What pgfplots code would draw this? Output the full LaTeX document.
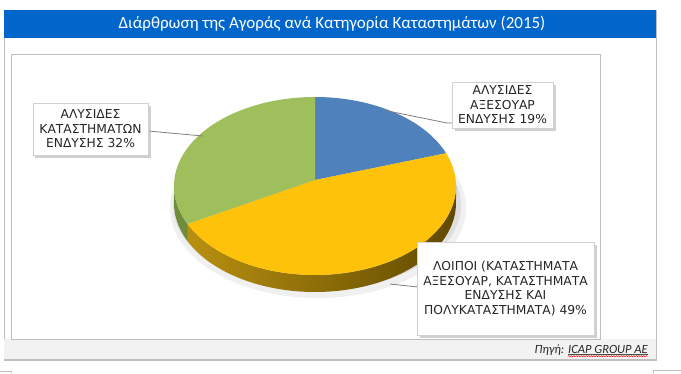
\documentclass[border=0pt]{standalone}
\usepackage{fontspec}
\setmainfont{Carlito}
\newfontfamily\dejavu{DejaVu Sans}
\usepackage{pgfplots}
\usepackage{pgfplotstable}
\pgfplotsset{compat=1.18}
\usetikzlibrary{shadows,decorations.pathmorphing}

\definecolor{titleblue}{HTML}{0066CC}
\definecolor{pieblue}{HTML}{4F81BD}
\definecolor{pieyellow}{HTML}{FFC20A}
\definecolor{piegreen}{HTML}{9FBF5D}
\definecolor{framegray}{HTML}{BFBFBF}
\definecolor{srcbg}{HTML}{F2F2F2}
\definecolor{leadergray}{HTML}{7F7F7F}
\definecolor{sideL}{HTML}{B89010}
\definecolor{sideM}{HTML}{8A6A00}
\definecolor{sideR}{HTML}{604900}
\definecolor{sideG}{HTML}{6E8C3A}

\pgfplotstableread{
idx value
0 19
1 49
2 32
}\piedata

\begin{document}
\begin{tikzpicture}
\pgfplotstablegetelem{0}{value}\of\piedata \edef\vA{\pgfplotsretval}
\pgfplotstablegetelem{1}{value}\of\piedata \edef\vB{\pgfplotsretval}
\pgfplotstablegetelem{2}{value}\of\piedata \edef\vC{\pgfplotsretval}
\pgfmathsetmacro\aO{90}
\pgfmathsetmacro\aA{90-3.6*\vA}
\pgfmathsetmacro\aB{\aA-3.6*\vB}
\pgfmathsetmacro\aC{\aB-3.6*\vC}
\def\cx{315}\def\cy{186}\def\rx{141}\def\ry{89}
\def\px{315}\def\py{180}\def\dep{17}
\begin{axis}[
  scale only axis, width=681pt, height=373pt,
  xmin=0, xmax=681, ymin=0, ymax=373, y dir=reverse,
  hide axis, clip=false,
]
% outer frame
\draw[framegray, line width=0.8pt, fill=white] (axis cs:4,10) rectangle (axis cs:656,360);
\fill[titleblue] (axis cs:4,10) rectangle (axis cs:656,38);
\node[text=white, font=\fontsize{17}{20}\selectfont] at (axis cs:332,24) {Διάρθρωση της Αγοράς ανά Κατηγορία Καταστημάτων (2015)};
% source bar
\fill[srcbg] (axis cs:4,339) rectangle (axis cs:656,359);
\draw[framegray, line width=1.2pt] (axis cs:4,359.5) -- (axis cs:656,359.5);
% inner chart box
\draw[framegray, line width=0.8pt] (axis cs:11,54) rectangle (axis cs:600,339);
% bits at the bottom
\draw[framegray, line width=0.8pt] (axis cs:0,371) -- (axis cs:11,371) -- (axis cs:11,373);
\draw[framegray, line width=0.8pt] (axis cs:653,373) -- (axis cs:653,370) -- (axis cs:681,370);

% pie shadow
\addplot[fill=black!6, draw=none, domain=0:360, samples=120] ({318+148*cos(x)},{208+90*sin(x)});
\addplot[fill=black!13, draw=none, domain=0:360, samples=120] ({317+144*cos(x)},{205+86*sin(x)});

% side of yellow slice
\addplot[draw=none, left color=sideL, middle color=sideM, right color=sideR,
  variable=\t, domain=0:2, samples=201]
 ({\cx+\rx*cos(ifthenelse(\t<1.005, \aB+(0-\aB)*\t, 0-(0-\aB)*(\t-1.01)/0.99))},
  {\cy-\ry*sin(ifthenelse(\t<1.005, \aB+(0-\aB)*\t, 0-(0-\aB)*(\t-1.01)/0.99)) + ifthenelse(\t<1.005,0,\dep)});
% side of green slice
\addplot[draw=none, fill=sideG,
  variable=\t, domain=0:2, samples=101]
 ({\cx+\rx*cos(ifthenelse(\t<1.005, -180+(\aB+180)*\t, \aB-(\aB+180)*(\t-1.02)/0.98))},
  {\cy-\ry*sin(ifthenelse(\t<1.005, -180+(\aB+180)*\t, \aB-(\aB+180)*(\t-1.02)/0.98)) + ifthenelse(\t<1.005,0,\dep)});

% top wedges
\addplot[fill=pieblue, draw=none, variable=\t, domain=0:1.01, samples=102]
 ({ifthenelse(\t>1.005, \px, \cx+\rx*cos(\aO+(\aA-\aO)*\t))},
  {ifthenelse(\t>1.005, \py, \cy-\ry*sin(\aO+(\aA-\aO)*\t))});
\addplot[fill=pieyellow, draw=none, variable=\t, domain=0:1.01, samples=102]
 ({ifthenelse(\t>1.005, \px, \cx+\rx*cos(\aA+(\aB-\aA)*\t))},
  {ifthenelse(\t>1.005, \py, \cy-\ry*sin(\aA+(\aB-\aA)*\t))});
\addplot[fill=piegreen, draw=none, variable=\t, domain=0:1.01, samples=102]
 ({ifthenelse(\t>1.005, \px, \cx+\rx*cos(\aB+(\aC-\aB)*\t))},
  {ifthenelse(\t>1.005, \py, \cy-\ry*sin(\aB+(\aC-\aB)*\t))});

% leader lines
\draw[leadergray, line width=0.8pt] (axis cs:148,131) -- (axis cs:203,136);
\draw[leadergray, line width=0.8pt] (axis cs:452,123) -- (axis cs:447,123) -- (axis cs:383,110);
\draw[leadergray, line width=0.8pt] (axis cs:427,287) -- (axis cs:418,287) -- (axis cs:390,284);

% labels
\tikzset{lbl/.style={fill=white, draw=black!18, line width=0.5pt, inner sep=0pt, align=center,
  text=black!85, font=\dejavu\fontsize{12.3}{14.5}\selectfont,
  drop shadow={shadow xshift=2.5pt, shadow yshift=-2.5pt, fill=black!30, opacity=0.6}}}
\node[lbl, minimum width=115pt, minimum height=52pt] at (axis cs:90.5,129) {ΑΛΥΣΙΔΕΣ\\ΚΑΤΑΣΤΗΜΑΤΩΝ\\ΕΝΔΥΣΗΣ 32\%};
\node[lbl, minimum width=101pt, minimum height=46pt] at (axis cs:502.5,105) {ΑΛΥΣΙΔΕΣ\\ΑΞΕΣΟΥΑΡ\\ΕΝΔΥΣΗΣ 19\%};
\node[lbl, minimum width=177pt, minimum height=93pt] at (axis cs:505.5,288.5) {ΛΟΙΠΟΙ (ΚΑΤΑΣΤΗΜΑΤΑ\\ΑΞΕΣΟΥΑΡ, ΚΑΤΑΣΤΗΜΑΤΑ\\ΕΝΔΥΣΗΣ ΚΑΙ\\ΠΟΛΥΚΑΤΑΣΤΗΜΑΤΑ) 49\%};

% source
\node[anchor=base east, inner sep=0pt, text=black!85, font=\itshape\fontsize{12.5}{14}\selectfont] (icap) at (axis cs:648,353) {ICAP GROUP AE};
\node[anchor=base east, inner sep=0pt, text=black!85, font=\itshape\fontsize{12.5}{14}\selectfont] at ([xshift=-3.5pt]icap.base west) {Πηγή:};
\draw[black!70, line width=0.5pt] ([yshift=-1.3pt]icap.base west) -- ([yshift=-1.3pt]icap.base east);
\draw[red, line width=0.5pt, decorate, decoration={snake, amplitude=0.6pt, segment length=2.5pt}] ([yshift=-3.2pt]icap.base west) -- ([yshift=-3.2pt]icap.base east);
\end{axis}
\pgfresetboundingbox
\path (0,0) rectangle (681pt,373pt);
\end{tikzpicture}
\end{document}
